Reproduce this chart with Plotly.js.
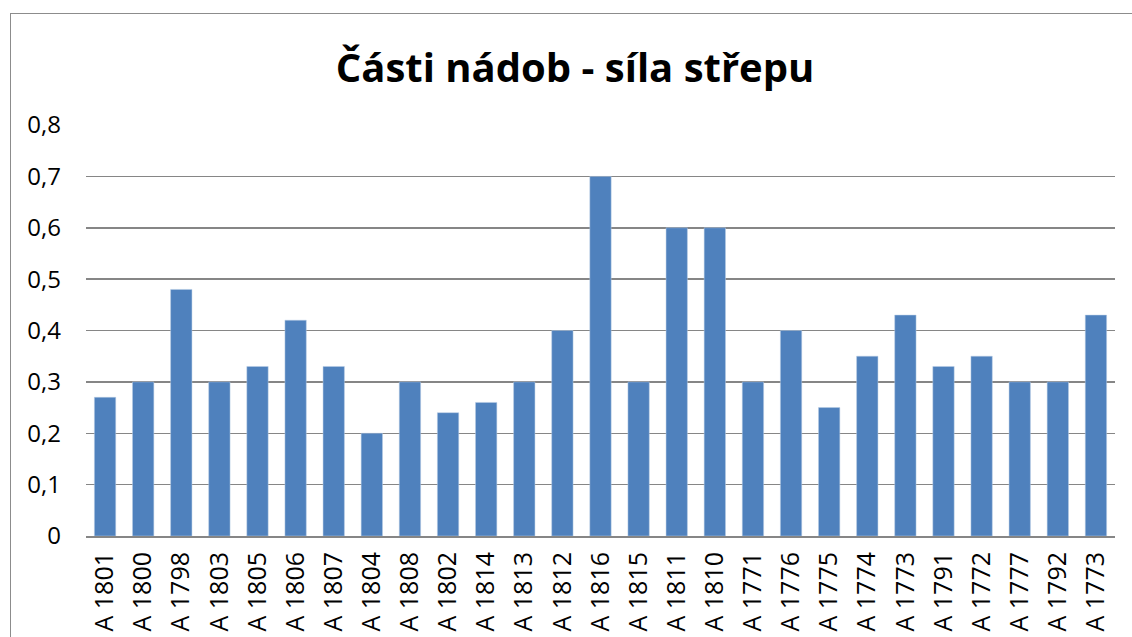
<!DOCTYPE html>
<html>
<head>
<meta charset="utf-8">
<script src="https://cdn.plot.ly/plotly-3.0.1.min.js"></script>
<style>
html,body{margin:0;padding:0;overflow:hidden;background:#fff;}
#frame{position:absolute;left:10px;top:13px;width:1200px;height:700px;border:1.5px solid #8c8c8c;box-sizing:border-box;}
#chart{position:absolute;left:0;top:0;width:1132px;height:637px;}
</style>
</head>
<body>
<div id="frame"></div>
<div id="chart"></div>
<script>
const categories = ["A 1801","A 1800","A 1798","A 1803","A 1805","A 1806","A 1807","A 1804","A 1808","A 1802","A 1814","A 1813","A 1812","A 1816","A 1815","A 1811","A 1810","A 1771","A 1776","A 1775","A 1774","A 1773","A 1791","A 1772","A 1777","A 1792","A 1773"];
const values = [0.27,0.30,0.48,0.30,0.33,0.42,0.33,0.20,0.30,0.24,0.26,0.30,0.40,0.70,0.30,0.60,0.60,0.30,0.40,0.25,0.35,0.43,0.33,0.35,0.30,0.30,0.43];
const positions = categories.map((c,i)=>i);

const trace = {
  type:'bar', x: positions, y: values,
  marker:{color:'#4F81BD', line:{color:'#B9CDE5', width:0.5}},
  hoverinfo:'skip'
};
const layout = {
  width:1132, height:637,
  paper_bgcolor:'rgba(0,0,0,0)', plot_bgcolor:'rgba(0,0,0,0)',
  margin:{l:86, r:17, t:125, b:101},
  separators:', ',
  bargap:0.44,
  showlegend:false,
  title:{text:'Části nádob - síla střepu', x:0.508, xanchor:'center', y:0.893, yanchor:'middle',
    font:{family:'Open Sans, Noto Sans, sans-serif', size:40, color:'#000', weight:'bold'}},
  xaxis:{
    tickmode:'array', tickvals: positions, ticktext: categories,
    range:[-0.5, categories.length-0.5],
    tickangle:-90, tickfont:{family:'Open Sans, Noto Sans, sans-serif', size:25, color:'#000'},
    showgrid:false, zeroline:false, showline:true, linecolor:'#868686', linewidth:2,
    ticks:'', ticklabelstandoff:4, fixedrange:true
  },
  yaxis:{
    range:[0,0.8], dtick:0.1, tick0:0,
    showgrid:true, gridcolor:'#868686', gridwidth:1.5,
    zeroline:false, showline:false, ticks:'',
    tickfont:{family:'Open Sans, Noto Sans, sans-serif', size:24, color:'#000'},
    ticklabelstandoff:24, fixedrange:true
  }
};
Plotly.newPlot('chart',[trace],layout,{staticPlot:true});
</script>
</body>
</html>
